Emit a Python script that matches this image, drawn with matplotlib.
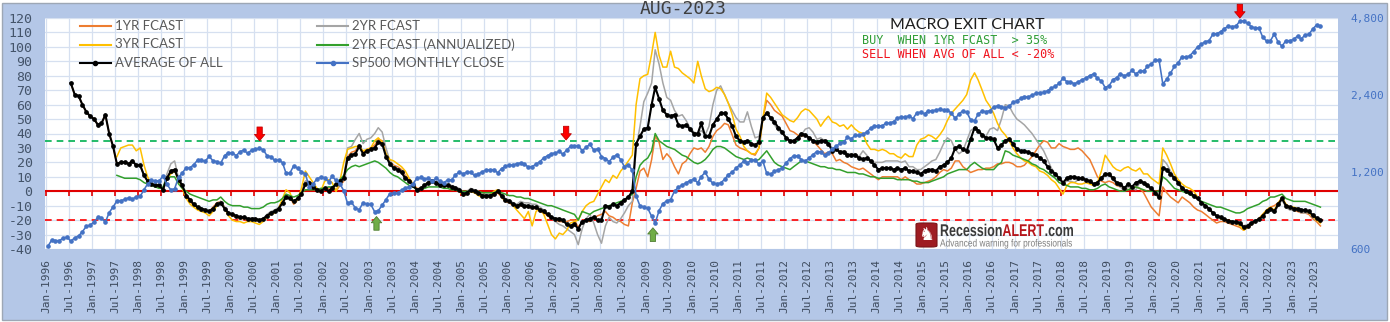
import pandas as pd
import matplotlib
matplotlib.use('Agg')
import matplotlib.pyplot as plt
import matplotlib.dates as mdates
import matplotlib.transforms as mtransforms
from matplotlib.lines import Line2D
from matplotlib.patches import Rectangle, FancyBboxPatch, PathPatch
from matplotlib.textpath import TextPath
from matplotlib.font_manager import FontProperties
from matplotlib.ticker import FixedLocator, FuncFormatter, NullLocator

plt.rcParams['font.family'] = 'DejaVu Sans Mono'
plt.rcParams['axes.unicode_minus'] = False

# S&P 500 monthly level, Jan-1996 .. Aug-2023
sp500 = [
    614, 650, 647, 647, 661, 669, 644, 663, 675, 701, 736, 743,
    766, 798, 792, 764, 833, 876, 925, 928, 937, 951, 939, 962,
    963, 1024, 1077, 1112, 1108, 1108, 1157, 1075, 1021, 1032, 1144, 1190,
    1249, 1247, 1282, 1335, 1332, 1323, 1381, 1327, 1318, 1300, 1391, 1429,
    1426, 1389, 1442, 1461, 1418, 1462, 1473, 1485, 1468, 1390, 1378, 1331,
    1336, 1306, 1186, 1190, 1270, 1239, 1204, 1179, 1045, 1077, 1130, 1145,
    1140, 1101, 1154, 1112, 1079, 1014, 904, 913, 868, 855, 910, 899,
    896, 838, 847, 890, 936, 988, 993, 990, 1019, 1039, 1050, 1081,
    1133, 1143, 1124, 1133, 1103, 1133, 1106, 1089, 1118, 1117, 1169, 1199,
    1181, 1200, 1195, 1164, 1178, 1202, 1222, 1224, 1226, 1192, 1237, 1262,
    1279, 1277, 1294, 1302, 1290, 1253, 1260, 1287, 1318, 1363, 1389, 1416,
    1424, 1445, 1407, 1464, 1511, 1514, 1521, 1455, 1497, 1540, 1463, 1479,
    1379, 1355, 1317, 1370, 1403, 1341, 1257, 1281, 1217, 969, 883, 878,
    866, 805, 757, 848, 902, 926, 936, 1010, 1045, 1068, 1088, 1110,
    1124, 1089, 1152, 1197, 1125, 1083, 1080, 1087, 1122, 1172, 1199, 1242,
    1283, 1321, 1304, 1332, 1338, 1287, 1325, 1185, 1174, 1207, 1226, 1243,
    1301, 1352, 1389, 1386, 1341, 1323, 1360, 1403, 1443, 1438, 1395, 1422,
    1480, 1512, 1551, 1571, 1640, 1619, 1669, 1670, 1687, 1720, 1784, 1808,
    1822, 1817, 1864, 1864, 1890, 1947, 1973, 1962, 1993, 1937, 2045, 2054,
    2028, 2082, 2080, 2095, 2112, 2099, 2094, 2040, 1944, 2025, 2081, 2054,
    1919, 1904, 2022, 2076, 2066, 2084, 2149, 2177, 2158, 2143, 2165, 2247,
    2275, 2330, 2367, 2359, 2395, 2434, 2454, 2456, 2493, 2557, 2594, 2664,
    2790, 2705, 2703, 2654, 2701, 2754, 2794, 2858, 2902, 2785, 2723, 2567,
    2607, 2755, 2804, 2904, 2855, 2890, 2996, 2898, 2982, 2978, 3105, 3177,
    3278, 3277, 2652, 2762, 2920, 3105, 3208, 3392, 3366, 3419, 3549, 3695,
    3794, 3883, 3911, 4141, 4168, 4238, 4364, 4454, 4446, 4461, 4667, 4675,
    4574, 4436, 4391, 4391, 4040, 3899, 3912, 4159, 3851, 3726, 3917, 3912,
    3961, 4080, 3969, 4121, 4146, 4345, 4508, 4457,
]

# forecast series, % expected change, monthly
fcast_1yr_start = '1996-07-01'
fcast_1yr = [
    75, 67, 66, 60, 55, 52,
    50, 46, 47, 53, 40, 31, 19, 20, 20, 19, 21, 18,
    18, 11, 7, 5, 4, 4, 1, 9, 14, 15, 8, 4,
    -4, -7, -10, -11, -12, -13, -14, -11, -8, -7, -11, -15,
    -17, -18, -19, -19, -20, -20, -20, -21, -20, -17, -15, -14,
    -12, -8, -3, -4, -9, -6, -1, 7, 6, 3, 1, -1,
    1, 2, 3, 0, 4, 7, 24, 27, 28, 32, 27, 29,
    30, 32, 36, 35, 26, 21, 18, 17, 15, 11, 8, 5,
    2, 2, 4, 6, 7, 6, 4, 4, 4, 3, 2, 1,
    -3, -2, 0, -1, -2, -4, -4, -4, -3, -1, -4, -7,
    -8, -10, -11, -10, -11, -11, -12, -12, -14, -15, -17, -19,
    -20, -21, -21, -21, -20, -20, -25, -21, -20, -21, -19, -17,
    -16, -14, -17, -18, -20, -21, -23, -24, -8, 2, 14, 16,
    10, 22, 38, 34, 22, 26, 23, 17, 12, 19, 21, 26,
    30, 29, 30, 27, 31, 38, 42, 44, 47, 46, 39, 32,
    30, 29, 28, 26, 25, 30, 50, 63, 60, 56, 54, 52,
    47, 42, 41, 39, 38, 39, 37, 35, 32, 29, 26, 27,
    26, 21, 22, 20, 19, 17, 16, 15, 16, 14, 12, 10,
    8, 10, 10, 10, 10, 10, 8, 10, 8, 7, 5, 5,
    6, 7, 8, 10, 13, 15, 14, 16, 21, 21, 17, 15,
    13, 14, 15, 15, 16, 16, 17, 19, 19, 20, 20, 19,
    17, 17, 18, 21, 24, 28, 32, 35, 34, 30, 30, 33,
    31, 30, 29, 29, 30, 28, 25, 22, 16, 10, 7, 6,
    7, 6, 4, 3, 2, 1, 2, 3, 2, -1, -6, -11,
    -14, -17, 3, -1, -4, -6, -8, -4, -6, -8, -11, -13,
    -14, -16, -18, -20, -22, -21, -21, -22, -23, -24, -25, -27,
    -25, -23, -21, -19, -16, -13, -11, -10, -8, -6, -9, -12,
    -13, -14, -15, -15, -16, -19, -21, -24,
]

fcast_2yr_start = '1997-07-01'
fcast_2yr = [
    19, 20, 20, 19, 21, 18,
    18, 11, 7, 5, 4, 4, 2, 12, 19, 21, 9, 4,
    -3, -6, -9, -11, -12, -13, -14, -12, -9, -7, -11, -15,
    -16, -17, -18, -18, -19, -19, -19, -20, -19, -16, -14, -13,
    -11, -7, -3, -4, -7, -5, 0, 7, 7, 4, 2, 1,
    2, 3, 3, 1, 5, 8, 30, 31, 36, 40, 33, 36,
    37, 40, 44, 41, 30, 21, 17, 16, 14, 10, 7, 4,
    1, 2, 4, 7, 8, 6, 5, 5, 4, 4, 3, 2,
    -1, 0, 2, 1, 0, -2, -2, -2, -1, 1, -2, -5,
    -6, -8, -9, -7, -8, -8, -9, -9, -11, -13, -16, -18,
    -21, -23, -24, -26, -28, -30, -37, -26, -19, -16, -22, -30,
    -36, -24, -18, -21, -22, -19, -15, -10, -7, 30, 45, 62,
    68, 75, 98, 88, 75, 65, 63, 56, 52, 53, 49, 44,
    41, 40, 42, 39, 45, 60, 70, 73, 67, 61, 56, 51,
    48, 48, 55, 45, 37, 38, 50, 55, 50, 46, 42, 40,
    37, 34, 34, 36, 39, 43, 44, 41, 36, 37, 35, 33,
    30, 29, 28, 28, 26, 26, 26, 24, 28, 25, 21, 20,
    20, 20, 21, 21, 21, 21, 20, 21, 17, 17, 15, 15,
    17, 19, 21, 22, 27, 33, 37, 35, 29, 26, 28, 35,
    42, 44, 42, 37, 38, 43, 44, 42, 50, 60, 59, 54,
    50, 48, 46, 43, 40, 36, 32, 28, 22, 16, 12, 8,
    6, 7, 7, 6, 8, 8, 7, 6, 5, 6, 8, 11,
    11, 8, 5, 3, 0, 3, 2, 1, 6, 5, 3, 1,
    -2, -5, 22, 19, 14, 10, 6, 3, 0, -1, -3, -5,
    -8, -10, -12, -15, -17, -18, -19.5, -20.5, -21, -21, -22, -24,
    -23, -22, -21, -20, -17, -15, -13, -15, -10, -6, -11, -13,
    -13, -13, -15, -15, -15, -18, -20, -21,
]

fcast_3yr_start = '1997-07-01'
fcast_3yr = [
    24, 30, 31, 32, 32, 28,
    30, 18, 10, 5, 4, 3, 2, 8, 12, 14, 8, 2,
    -5, -9, -11, -13, -14, -15, -17, -14, -10, -8, -12, -17,
    -20, -21, -21, -22, -21, -21, -22, -23, -21, -18, -16, -15,
    -12, -5, 1, -1, -8, -6, 2, 14, 10, 6, 2, 0,
    7, 8, 6, 0, 7, 20, 29, 30, 31, 31, 28, 29,
    30, 35, 37, 34, 26, 22, 21, 19, 17, 14, 9, 5,
    1, 2, 4, 6, 7, 5, 4, 3, 4, 2, 1, 0,
    -3, -2, 0, -1, -3, -4, -4, -3, 0, 1, -4, -7,
    -7, -10, -13, -16, -19, -14, -24, -14, -12, -16, -23, -30,
    -33, -29, -30, -27, -22, -21, -20, -14, -10, -8, -7, -2,
    3, 8, 6, 11, 9, 14, 17, 21, 25, 60, 78, 80,
    81, 95, 110, 94, 86, 86, 97, 86, 85, 82, 80, 78,
    75, 90, 80, 71, 69, 70, 72, 71, 67, 61, 53, 43,
    38, 31, 28, 26, 26, 30, 50, 68, 65, 61, 57, 53,
    51, 49, 48, 51, 55, 57, 56, 53, 50, 45, 49, 52,
    48, 47, 45, 46, 43, 46, 43, 41, 40, 33, 29, 29,
    28, 29, 28, 26, 26, 24, 23, 26, 24, 24, 32, 36,
    37, 39, 38, 36, 39, 43, 49, 54, 57, 60, 63, 67,
    77, 82, 77, 70, 63, 59, 54, 47, 42, 39, 35, 30,
    26, 23, 21, 20, 18, 17, 14, 13, 11, 8, 6, 2,
    -2, 4, 6, 6, 5, 5, 6, 5, 4, 6, 14, 25,
    21, 17, 15, 14, 16, 17, 15, 14, 16, 12, 12, 9,
    7, 5, 30, 25, 19, 12, 8, 5, 3, 2, 0, -4,
    -8, -10, -12, -15, -17, -19, -20, -20, -21, -22, -24, -27,
    -25, -23, -21, -19, -16, -13, -11, -13, -8, -4, -9, -11,
    -11, -12, -14, -13, -15, -17, -20, -22,
]

fcast_2yr_ann_start = '1997-07-01'
fcast_2yr_ann = [
    11, 10, 9, 9, 9, 9,
    8, 6, 5, 4, 3, 2, 3, 9, 10, 10, 5, 2,
    0, -2, -3, -4, -5, -6, -7, -6, -6, -4, -7, -9,
    -10, -10, -10, -11, -11, -12, -12, -12, -11, -9, -8, -8,
    -7, -5, -2, -3, -4, -3, -1, 1, 1, 1, 1, 2,
    2, 3, 3, 5, 8, 11, 15, 17, 18, 17, 18, 19,
    20, 21, 20, 18, 16, 13, 11, 10, 8, 6, 4, 3,
    1, 2, 2, 3, 3, 3, 3, 2, 2, 1, 1, 0,
    0, 0, 0, 0, 0, -1, -1, -1, -1, 0, -1, -2,
    -3, -3, -4, -4, -5, -5, -6, -7, -8, -9, -10, -10,
    -11, -12, -13, -14, -15, -16, -20, -14, -15, -16, -14, -13,
    -12, -11, -10, -9, -8, -7, -6, -4, -2, 10, 18, 21,
    23, 28, 40, 35, 33, 31, 30, 29, 27, 25, 24, 22,
    20, 19, 20, 22, 25, 29, 31, 31, 30, 28, 26, 24,
    23, 22, 23, 22, 21, 22, 25, 28, 24, 20, 18, 17,
    16, 15, 17, 19, 21, 21, 20, 19, 18, 17, 17, 16,
    16, 15, 15, 14, 13, 13, 13, 12, 12, 11, 10, 10,
    9, 9, 9, 9, 9, 8, 8, 8, 8, 7, 7, 6,
    6, 6, 7, 8, 9, 10, 12, 13, 14, 15, 15, 15,
    18, 20, 18, 16, 15, 15, 15, 18, 20, 28, 27, 25,
    24, 23, 22, 21, 19, 18, 16, 15, 13, 11, 9, 6,
    5, 4, 3, 3, 3, 2, 2, 1, 1, 2, 4, 5,
    3, 2, 1, 0, 0, 1, 2, 3, 2, 1, 0, 0,
    0, 0, 10, 8, 5, 2, 1, 0, -1, -2, -4, -5,
    -7, -8, -9, -10, -11, -11, -12, -13, -14, -15, -15, -14,
    -12, -11, -10, -9, -7, -6, -4, -4, -3, -2, -5, -6,
    -7, -7, -7, -7, -8, -9, -10, -11,
]

avg_all_start = '1996-07-01'
avg_all = [
    75, 67, 66, 60, 55, 52,
    50, 46, 47, 53, 40, 31, 19, 20, 20, 19, 21, 18,
    18, 11, 7, 5, 4, 4, 1, 9, 14, 15, 8, 4,
    -3, -6, -9, -11, -12, -13, -14, -12, -9, -8, -12, -15,
    -16, -17, -18, -18, -19, -19, -19, -20, -19, -17, -15, -14,
    -12, -8, -4, -5, -7, -5, -2, 5, 6, 3, 1, 0,
    2, 0, 2, 5, 7, 9, 23, 25, 26, 31, 26, 28,
    29, 30, 34, 33, 24, 19, 16, 15, 13, 9, 7, 4,
    1, 2, 4, 6, 7, 6, 4, 4, 4, 3, 2, 1,
    -2, -1, 1, 0, -1, -3, -3, -3, -2, 0, -3, -6,
    -7, -9, -10, -9, -10, -10, -11, -11, -13, -14, -16, -18,
    -19, -19, -20, -23, -24, -23, -26, -21, -20, -19, -18, -20,
    -20, -10, -11, -9, -10, -8, -6, -4, 0, 33, 38, 43,
    44, 60, 72, 64, 56, 53, 52, 53, 46, 45, 46, 43,
    40, 40, 47, 38, 38, 46, 50, 54, 54, 50, 45, 38,
    35, 34, 35, 33, 32, 34, 51, 54, 51, 48, 44, 41,
    37, 35, 35, 37, 40, 39, 37, 35, 34, 35, 35, 33,
    28, 29, 27, 27, 25, 25, 25, 23, 22, 23, 21, 18,
    15, 16, 16, 16, 15, 16, 15, 16, 14, 14, 13, 12,
    14, 15, 15, 14, 17, 18, 20, 23, 30, 31, 29, 28,
    36, 44, 42, 39, 37, 37, 36, 30, 32, 35, 36, 33,
    29, 28, 28, 27, 26, 25, 23, 21, 17, 14, 12, 9,
    6, 9, 10, 10, 9, 9, 8, 7, 5, 6, 9, 12,
    12, 9, 6, 5, 2, 5, 3, 6, 7, 6, 4, 2,
    -1, -4, 16, 15, 12, 9, 6, 2, 0, -1, -3, -5,
    -8, -10, -12, -15, -17, -18, -19.5, -20.5, -21, -21, -22, -25,
    -24, -22, -20.5, -19.5, -17, -14, -12, -14, -9, -5, -10, -11,
    -12, -12, -13, -13, -14, -16.5, -18.5, -20,
]

# exit / entry signals (date, level of arrow tip)
sell_dates = ['2000-08-18', '2007-04-10', '2021-11-15']
sell_levels = [35, 35.5, 120]
buy_dates = ['2003-03-01', '2009-02-25']
buy_levels = [-17.5, -25.3]


def month_dates(start, n):
    return pd.date_range(start, periods=n, freq='MS') + pd.Timedelta(days=14)


W, H = 1390, 322
fig = plt.figure(figsize=(W / 100, H / 100), dpi=100)
fig.patch.set_facecolor('white')
fig.add_artist(Rectangle((2 / W, 2 / H), (W - 5) / W, (H - 5) / H,
                         transform=fig.transFigure, facecolor='#B4C7E7',
                         edgecolor='#9DA7B5', lw=1, zorder=-10))

ax = fig.add_axes([45 / W, (H - 249) / H, (1338 - 45) / W, (249 - 18) / H])
ax.set_facecolor('white')
for s in ax.spines.values():
    s.set_visible(False)

c_1yr, c_2yr, c_3yr = '#ED7D31', '#A5A5A5', '#FFC000'
c_ann, c_avg, c_sp = '#33A02C', '#000000', '#4472C4'

ax.plot(month_dates(fcast_1yr_start, len(fcast_1yr)), fcast_1yr, color=c_1yr, lw=1.1, zorder=3)
ax.plot(month_dates(fcast_2yr_start, len(fcast_2yr)), fcast_2yr, color=c_2yr, lw=1.1, zorder=3.1)
ax.plot(month_dates(fcast_3yr_start, len(fcast_3yr)), fcast_3yr, color=c_3yr, lw=1.1, zorder=3.2)
ax.plot(month_dates(fcast_2yr_ann_start, len(fcast_2yr_ann)), fcast_2yr_ann, color=c_ann, lw=1.1, zorder=3.3)
ax.plot(month_dates(avg_all_start, len(avg_all)), avg_all, color=c_avg, lw=1.5,
        marker='o', ms=2.4, zorder=3.5)

# buy / sell thresholds and the zero axis
ax.axhline(35, color='#00B050', lw=1.2, ls=(0, (4, 3)), zorder=2)
ax.axhline(-20, color='#FF0000', lw=1.2, ls=(0, (4, 3)), zorder=2)
ax.axhline(0, color='#E00000', lw=1.5, zorder=2)

xmin, xmax = pd.Timestamp('1995-12-24'), pd.Timestamp('2024-01-01')
ax.set_xlim(xmin, xmax)
ax.set_ylim(-40, 120)
ticks = pd.date_range('1996-01-01', '2023-07-01', freq='6MS')
ax.vlines(ticks, -3, 0, color='#E00000', lw=1.2, zorder=2)

ax.set_xticks(ticks)
ax.xaxis.set_major_formatter(mdates.DateFormatter('%b-%Y'))
ax.set_yticks(range(-40, 121, 10))
ax.grid(True, color='#D6E0F0', lw=0.9, zorder=0)
ax.set_axisbelow(True)
ax.tick_params(axis='x', length=0, pad=7, labelsize=8, labelcolor='#3E4B5E', labelrotation=90)
ax.tick_params(axis='y', length=0, pad=9, labelsize=9.5, labelcolor='#44546A')

ax2 = ax.twinx()
for s in ax2.spines.values():
    s.set_visible(False)
ax2.set_yscale('log')
ax2.set_ylim(600, 4800)
ax2.yaxis.set_major_locator(FixedLocator([600, 1200, 2400, 4800]))
ax2.yaxis.set_minor_locator(NullLocator())
ax2.yaxis.set_major_formatter(FuncFormatter(lambda v, p: f'{int(round(v)):,}'))
ax2.tick_params(axis='y', length=0, pad=9, labelsize=8, labelcolor=c_sp)
ax2.plot(month_dates('1996-01-01', len(sp500)), sp500, color=c_sp, lw=1.15,
         marker='o', ms=2.3, zorder=4)
ax2.set_xlim(xmin, xmax)

arrow_len = 9.5
arrow_style = 'simple,head_length=0.45,head_width=0.75,tail_width=0.38'
signals = [(d, lv, lv + arrow_len, '#FF0000', '#C00000') for d, lv in zip(sell_dates, sell_levels)]
signals += [(d, lv, lv - arrow_len, '#70AD47', '#507E32') for d, lv in zip(buy_dates, buy_levels)]
for d, tip, tail, fc, ec in signals:
    xd = mdates.date2num(pd.Timestamp(d))
    ax2.annotate('', xy=(xd, tip), xytext=(xd, tail),
                 xycoords=ax.transData, textcoords=ax.transData, annotation_clip=False,
                 arrowprops=dict(arrowstyle=arrow_style, fc=fc, ec=ec, lw=0.6,
                                 shrinkA=0, shrinkB=0, mutation_scale=10), zorder=6)

# legend, two columns in the upper left
legend_items = [
    ('1YR FCAST', c_1yr, None, 80, 26),
    ('3YR FCAST', c_3yr, None, 80, 44.5),
    ('AVERAGE OF ALL', c_avg, 'o', 80, 63),
    ('2YR FCAST', c_2yr, None, 317, 26),
    ('2YR FCAST (ANNUALIZED)', c_ann, None, 317, 44.5),
    ('SP500 MONTHLY CLOSE', c_sp, 'o', 317, 63),
]
for label, col, mk, lx, ly in legend_items:
    fig.add_artist(Line2D([lx / W, (lx + 31) / W], [1 - ly / H] * 2, transform=fig.transFigure,
                          color=col, lw=1.5))
    if mk:
        fig.add_artist(Line2D([(lx + 15.5) / W], [1 - ly / H], transform=fig.transFigure,
                              color=col, marker=mk, ms=3))
    fig.text((lx + 35) / W, 1 - ly / H, label, ha='left', va='center',
             family='Lato', fontsize=9.5, color='#595959')

fig.text(683 / W, 1 - 9.5 / H, 'AUG-2023', ha='center', va='center', fontsize=13, color='#3F3F3F')
fig.text(967 / W, 1 - 25 / H, 'MACRO EXIT CHART', ha='center', va='center',
         family='Lato', fontsize=11.5, color='#1E1E1E')
fig.text(862 / W, 1 - 41 / H, 'BUY  WHEN 1YR FCAST  > 35%', ha='left', va='center',
         fontsize=8.5, color='#2F9E36')
fig.text(862 / W, 1 - 55 / H, 'SELL WHEN AVG OF ALL < -20%', ha='left', va='center',
         fontsize=8.5, color='#F0141E')


def condensed_text(parts, x0, baseline, size, width, weight):
    """Draw coloured text pieces squeezed to a given pixel width."""
    fp = FontProperties(family='Liberation Sans', weight=weight)
    paths = [TextPath((0, 0), txt, size=size, prop=fp) for txt, _ in parts]
    gap = 0.06 * size
    natural = sum(p.get_extents().x1 for p in paths) + gap * (len(paths) - 1)
    sx = width / natural
    x = x0
    for p, (_, col) in zip(paths, parts):
        tr = mtransforms.Affine2D().scale(sx, 1).translate(x, H - baseline)
        fig.add_artist(PathPatch(p, transform=tr, fc=col, ec='none', lw=0))
        x += (p.get_extents().x1 + gap) * sx


# RecessionALERT badge
fig.add_artist(FancyBboxPatch((916 / W, (H - 247) / H), 21 / W, 24 / H,
                              boxstyle='round,pad=0,rounding_size=0.004',
                              transform=fig.transFigure, fc='#9E1C22', ec='#7A1418', lw=0.8))
fig.text(926.5 / W, 1 - 235 / H, '\u265e', ha='center', va='center', family='DejaVu Sans',
         fontsize=13, color='white')
condensed_text([('Recession', '#3A3A3A'), ('ALERT', '#B5161C'), ('.com', '#3A3A3A')],
               940, 236, 17, 133, 'bold')
condensed_text([('Advanced warning for professionals', '#7F7F7F')], 940, 246.5, 10.5, 132, 'normal')

fig.savefig('out.png', dpi=100, facecolor=fig.get_facecolor())
